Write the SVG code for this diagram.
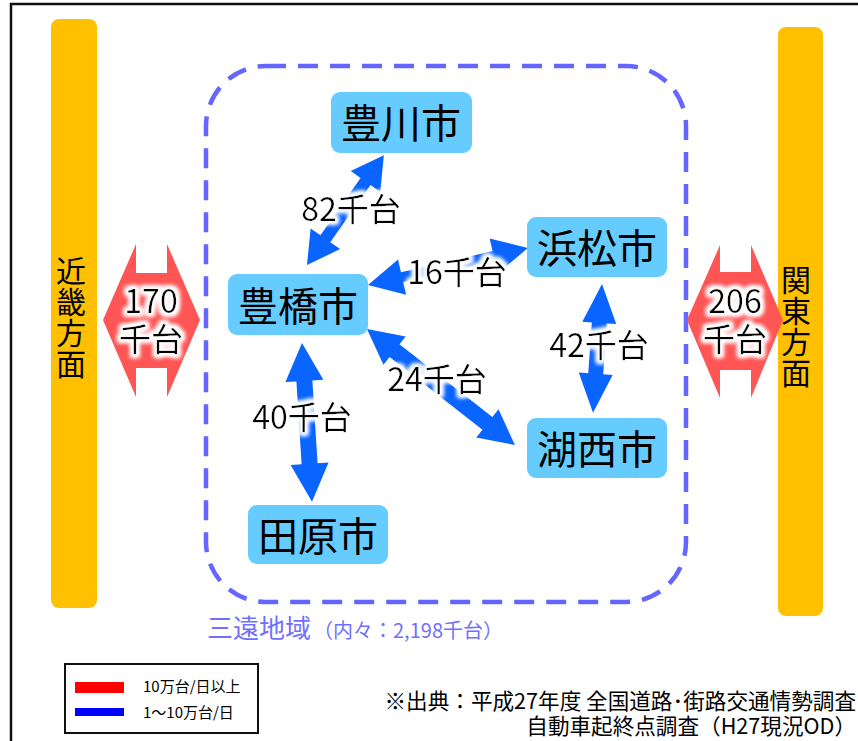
<svg xmlns="http://www.w3.org/2000/svg" width="858" height="741" viewBox="0 0 858 741">
<defs>
<style>
.t{font-family:"Noto Sans CJK JP","Noto Sans",sans-serif;fill:#000}
.city{font-size:40px;text-anchor:middle}
.node{fill:#66ccff}
.bar{fill:#ffc000}
.red{fill:#ff5555}
.blue{fill:#0a64ff}
.lbl{font-size:32px;text-anchor:middle}
.vt{font-size:30px;writing-mode:vertical-rl;letter-spacing:1px}
</style>
<filter id="glow" x="-20%" y="-30%" width="140%" height="160%">
<feMorphology in="SourceAlpha" operator="dilate" radius="2.5" result="d"/>
<feGaussianBlur in="d" stdDeviation="2" result="b"/>
<feFlood flood-color="#fff"/>
<feComposite in2="b" operator="in" result="w"/>
<feMerge><feMergeNode in="w"/><feMergeNode in="w"/><feMergeNode in="SourceGraphic"/></feMerge>
</filter>
</defs>
<rect x="0" y="0" width="858" height="741" fill="#fff"/>
<rect x="11" y="4" width="900" height="800" fill="none" stroke="#111" stroke-width="2.5"/>

<g id="kinki">
<rect class="bar" x="51" y="19" width="46" height="589" rx="8"/>
<text class="t vt" x="71" y="256">近畿方面</text>
</g>
<g id="kanto">
<rect class="bar" x="778" y="27" width="45" height="589" rx="8"/>
<text class="t vt" x="796" y="265">関東方面</text>
</g>

<g id="region">
<rect x="206" y="66" width="480" height="536" rx="60" fill="none" stroke="#6666ff" stroke-width="4.5" stroke-dasharray="20 12"/>
<text class="t" x="207" y="638" style="font-size:26px;fill:#7070ff">三遠地域<tspan style="font-size:20px" dx="2">（内々：2,198千台）</tspan></text>
</g>

<g id="connectors">
<polygon class="red" points="103,320 136,244 136,273 167,273 167,244 200,320 167,397 167,368 136,368 136,397"/>
<polygon class="red" points="687,320 720,245 720,272 751,272 751,245 783,320 751,398 751,370 720,370 720,398"/>
<polygon class="blue" transform="translate(307,265) rotate(-55)" points="0,0 32,-18 32,-6 102,-6 102,-18 134,0 102,18 102,6 32,6 32,18"/>
<polygon class="blue" transform="translate(368,285) rotate(-13)" points="0,0 35,-18 35,-5 129,-5 129,-18 164,0 129,18 129,5 35,5 35,18"/>
<polygon class="blue" transform="translate(367,329) rotate(38.1)" points="0,0 35,-18 35,-8 153,-8 153,-18 188,0 153,18 153,8 35,8 35,18"/>
<polygon class="blue" transform="translate(302,343) rotate(86.4)" points="0,0 38,-19 38,-8 121,-8 121,-19 159,0 121,19 121,8 38,8 38,19"/>
<polygon class="blue" transform="translate(602,284) rotate(94)" points="0,0 39,-17 39,-7.5 90,-7.5 90,-17 129,0 90,17 90,7.5 39,7.5 39,17"/>
<g filter="url(#glow)">
<text class="t lbl" x="151" y="313">170<tspan x="151" dy="38">千台</tspan></text>
<text class="t lbl" x="735" y="313">206<tspan x="735" dy="38">千台</tspan></text>
<text class="t lbl" x="351" y="221">82千台</text>
<text class="t lbl" x="457" y="284">16千台</text>
<text class="t lbl" x="437" y="391">24千台</text>
<text class="t lbl" x="302" y="429">40千台</text>
<text class="t lbl" x="599" y="357">42千台</text>
</g>
</g>

<g id="toyokawa">
<rect class="node" x="331" y="92" width="141" height="61" rx="9"/>
<text class="t city" x="401" y="138">豊川市</text>
</g>
<g id="toyohashi">
<rect class="node" x="228" y="274" width="140" height="61" rx="9"/>
<text class="t city" x="298" y="321">豊橋市</text>
</g>
<g id="hamamatsu">
<rect class="node" x="527" y="217" width="140" height="60" rx="9"/>
<text class="t city" x="597" y="263">浜松市</text>
</g>
<g id="kosai">
<rect class="node" x="527" y="418" width="140" height="60" rx="9"/>
<text class="t city" x="597" y="464">湖西市</text>
</g>
<g id="tahara">
<rect class="node" x="248" y="505" width="140" height="59" rx="9"/>
<text class="t city" x="318" y="551">田原市</text>
</g>

<g id="legend">
<rect x="65" y="664" width="193" height="69" fill="#fff" stroke="#111" stroke-width="2"/>
<rect x="75" y="682" width="49" height="11" fill="#ff0000"/>
<rect x="75" y="708" width="49" height="8" fill="#0000ff"/>
<text class="t" x="143" y="692" style="font-size:15px">10万台/日以上</text>
<text class="t" x="143" y="718" style="font-size:15px">1～10万台/日</text>
</g>

<g id="source">
<text class="t" style="font-size:21.6px;text-anchor:end"><tspan x="856" y="709">※出典：平成27年度 全国道路･街路交通情勢調査</tspan><tspan x="856" y="734">自動車起終点調査（H27現況OD）</tspan></text>
</g>
</svg>
